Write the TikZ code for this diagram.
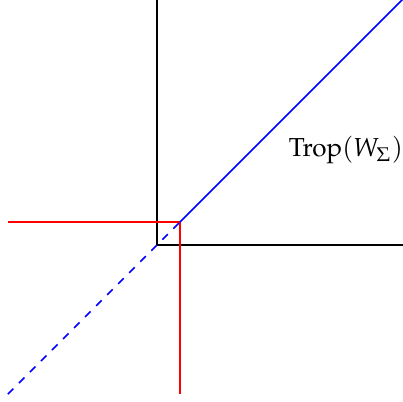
\documentclass[tikz,border=0pt]{standalone}
\usepackage{amsmath,amssymb}
\usepackage[T1]{fontenc}
\usepackage{mathpazo}
\usepackage{tikz}
\usetikzlibrary{positioning}

\begin{document}
\begin{tikzpicture}[x=0.665cm, y=0.665cm,
    axisline/.style={black, line width=0.6pt},
    tropline/.style={blue, line width=0.6pt},
    redline/.style={draw=red, line width=0.75pt},
]
  \useasboundingbox (-3.19,-3.17) rectangle (5,4.98);

  \coordinate (O) at (0,0);
  \coordinate (xend) at (5,0);
  \coordinate (yend) at (0,5);
  \coordinate (corner) at (0.465,0.465);
  \coordinate (far) at (5,5);
  \coordinate (low) at (-3.03,-3.03);
  \coordinate (left) at (-3.03,0.465);
  \coordinate (down) at (0.465,-3.03);

  % axes
  \draw[axisline] (yend) -- (O) -- (xend);

  % red cell
  \draw[redline] (left) -- (corner) -- (down);

  % tropical curve
  \draw[tropline] (corner) -- (far);
  \draw[tropline, dashed] (low) -- (corner);
  \node (label) at (3.84,1.93) {\fontfamily{ppl}\selectfont Trop$(W_\Sigma)$};
\end{tikzpicture}
\end{document}
